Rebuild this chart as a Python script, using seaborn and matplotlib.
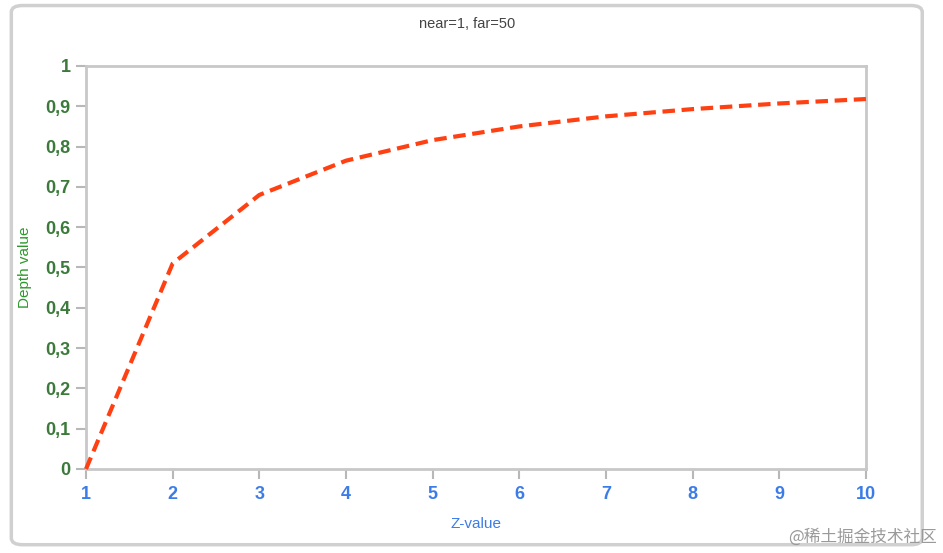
import matplotlib
matplotlib.use("Agg")
import matplotlib.pyplot as plt
import seaborn as sns
import pandas as pd
from matplotlib.patches import FancyBboxPatch

z_values = [1, 2, 3, 4, 5, 6, 7, 8, 9, 10]
depth_values = [0.0, 0.51, 0.68, 0.765, 0.816, 0.850, 0.875, 0.893, 0.907, 0.918]
y_ticks = [0, 0.1, 0.2, 0.3, 0.4, 0.5, 0.6, 0.7, 0.8, 0.9, 1]
y_tick_labels = ["0", "0,1", "0,2", "0,3", "0,4", "0,5", "0,6", "0,7", "0,8", "0,9", "1"]
x_ticks = [1, 2, 3, 4, 5, 6, 7, 8, 9, 10]

sns.set_theme(style="white")
plt.rcParams['font.family'] = ['Liberation Sans', 'DejaVu Sans', 'Noto Sans CJK SC']

df = pd.DataFrame({"z": z_values, "depth": depth_values})

fig = plt.figure(figsize=(9.43, 5.53), dpi=100)
ax = fig.add_axes([0.0912, 0.1519, 0.8271, 0.7288])

# outer rounded frame
frame = FancyBboxPatch((0.012, 0.015), 0.966, 0.975, boxstyle="round,pad=0,rounding_size=0.012",
                       transform=fig.transFigure, facecolor="white", edgecolor="#d0d0d0",
                       linewidth=2.5, zorder=-10)
fig.patches.append(frame)

sns.lineplot(data=df, x="z", y="depth", ax=ax, color="#ff4012", linewidth=3,
             linestyle=(0, (3, 1.6)), zorder=3, clip_on=False)

ax.set_xlim(1, 10)
ax.set_ylim(0, 1)
ax.set_xticks(x_ticks)
ax.set_xticklabels([str(v) for v in x_ticks], color="#3c7ce8", fontsize=13, fontweight="bold")
ax.set_yticks(y_ticks)
ax.set_yticklabels(y_tick_labels, color="#3b7a3b", fontsize=13, fontweight="bold")

for s in ax.spines.values():
    s.set_color("#c8c8c8")
    s.set_linewidth(2)

ax.tick_params(axis="x", which="both", direction="out", length=7, width=1.5, color="#b8b8b8",
               bottom=True, top=False, pad=5)
ax.tick_params(axis="y", which="both", direction="out", length=7, width=1.5, color="#b8b8b8",
               left=True, right=False, pad=4)
ax.set_xlabel("Z-value", color="#3c7ce8", fontsize=11, labelpad=10)
ax.set_ylabel("Depth value", color="#2a9a2a", fontsize=11, labelpad=10)
fig.text(0.4952, 0.957, "near=1, far=50", ha="center", va="center", fontsize=10.5, color="#444444")

fig.text(0.993, 0.028, "@稀土掘金技术社区", ha="right", va="center", fontsize=12,
         color="#9a9a9a", family=['Noto Sans CJK SC', 'DejaVu Sans'])

fig.savefig("out.png", dpi=100)
